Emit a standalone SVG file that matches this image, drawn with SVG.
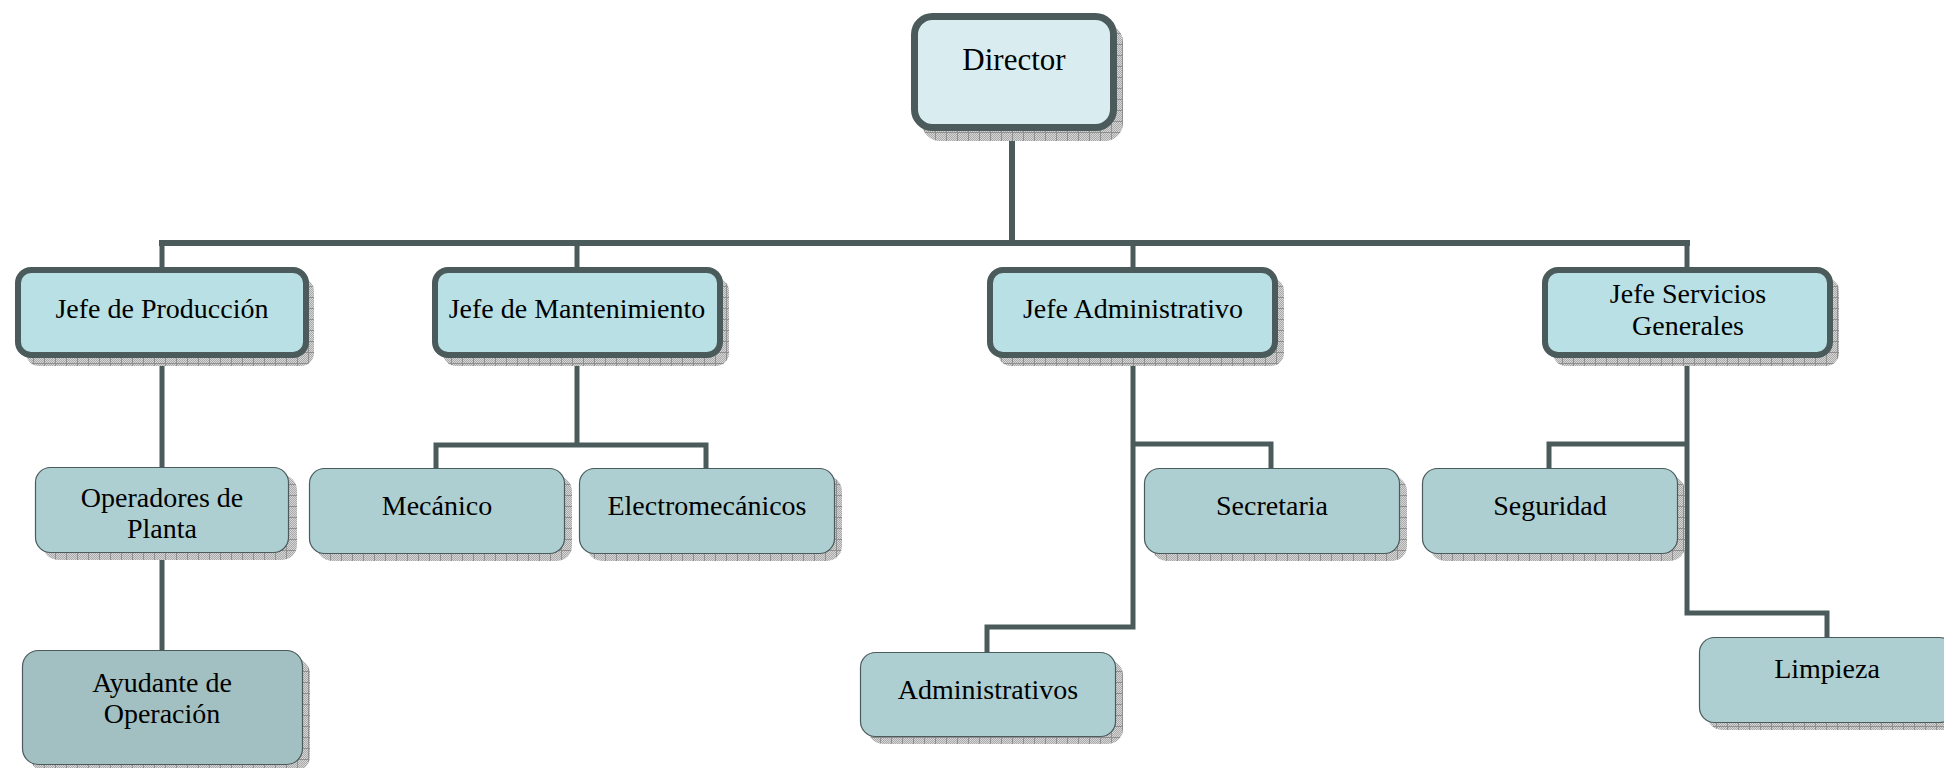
<svg xmlns="http://www.w3.org/2000/svg" width="1944" height="768" viewBox="0 0 1944 768">
  <defs>
    <!-- fine dither used inside the shadow grid -->
    <pattern id="dither" width="2" height="2" patternUnits="userSpaceOnUse">
      <rect width="2" height="2" fill="#d6d6d6"/>
      <rect width="1" height="1" fill="#a9a9a9"/>
      <rect x="1" y="1" width="1" height="1" fill="#a9a9a9"/>
    </pattern>
    <!-- hatched drop shadow -->
    <pattern id="shadowGrid" width="11" height="11" patternUnits="userSpaceOnUse">
      <rect width="11" height="11" fill="url(#dither)"/>
      <rect width="11" height="1" fill="#8f8f8f"/>
      <rect width="1" height="11" fill="#8f8f8f"/>
    </pattern>
  </defs>
  <style>
    .shadow { fill: url(#shadowGrid); }
    .top { fill: #d9edf0; stroke: #4b5a5b; stroke-width: 7; }
    .head { fill: #b9e0e4; stroke: #4b5a5b; stroke-width: 6; }
    .staff { fill: #aecfd2; stroke: #4b5a5b; stroke-width: 1.2; }
    .helper { fill: #a2c0c2; stroke: #4b5a5b; stroke-width: 1.2; }
    .lbl { font-family: "Liberation Serif", "Times New Roman", serif; font-size: 28px; fill: #000; text-anchor: middle; }
    .big { font-size: 31px; }
    .conn { fill: none; stroke: #4b5a5b; stroke-width: 5; stroke-linecap: square; stroke-linejoin: miter; }
  </style>
  <rect width="1944" height="768" fill="#ffffff"/>

  <!-- connectors -->
  <g id="connectors">
    <path class="conn" d="M1012 130 V243" style="stroke-width:6"/>
    <path class="conn" d="M162 243 H1687" style="stroke-width:6"/>
    <path class="conn" d="M162 243 V268 M577 243 V268 M1133 243 V268 M1687 243 V268"/>
    <!-- production -->
    <path class="conn" d="M162 357 V650"/>
    <!-- maintenance -->
    <path class="conn" d="M577 357 V445 M436 468 V445 H706 V468"/>
    <!-- administration -->
    <path class="conn" d="M1133 357 V627 H987 V652 M1133 444 H1271 V468"/>
    <!-- general services -->
    <path class="conn" d="M1687 357 V613 H1827 V637 M1549 468 V444 H1687"/>
  </g>

  <g id="director">
    <rect class="shadow" x="922" y="24" width="201" height="117" rx="18"/>
    <rect class="top" x="914.5" y="16.5" width="199" height="111" rx="18"/>
    <text class="lbl big" x="1014" y="70">Director</text>
  </g>

  <g id="jefe-produccion">
    <rect class="shadow" x="26" y="278" width="288" height="88" rx="13"/>
    <rect class="head" x="18" y="270" width="288" height="85" rx="13"/>
    <text class="lbl" x="162" y="318">Jefe de Producción</text>
  </g>

  <g id="jefe-mantenimiento">
    <rect class="shadow" x="443" y="278" width="286" height="88" rx="13"/>
    <rect class="head" x="435" y="270" width="285" height="85" rx="13"/>
    <text class="lbl" x="577" y="318">Jefe de Mantenimiento</text>
  </g>

  <g id="jefe-administrativo">
    <rect class="shadow" x="998" y="278" width="286" height="88" rx="13"/>
    <rect class="head" x="990" y="270" width="285" height="85" rx="13"/>
    <text class="lbl" x="1133" y="318">Jefe Administrativo</text>
  </g>

  <g id="jefe-servicios">
    <rect class="shadow" x="1553" y="278" width="286" height="88" rx="13"/>
    <rect class="head" x="1545" y="270" width="285" height="85" rx="13"/>
    <text class="lbl" x="1688" y="303">Jefe Servicios</text>
    <text class="lbl" x="1688" y="335">Generales</text>
  </g>

  <g id="operadores">
    <rect class="shadow" x="43" y="475" width="254" height="85" rx="15"/>
    <rect class="staff" x="35.5" y="467.5" width="253" height="85" rx="15"/>
    <text class="lbl" x="162" y="507">Operadores de</text>
    <text class="lbl" x="162" y="538">Planta</text>
  </g>

  <g id="ayudante">
    <rect class="shadow" x="30" y="658" width="280" height="114" rx="16"/>
    <rect class="helper" x="22.5" y="650.5" width="280" height="114" rx="16"/>
    <text class="lbl" x="162" y="692">Ayudante de</text>
    <text class="lbl" x="162" y="723">Operación</text>
  </g>

  <g id="mecanico">
    <rect class="shadow" x="317" y="476" width="255" height="85" rx="15"/>
    <rect class="staff" x="309.5" y="468.5" width="255" height="85" rx="15"/>
    <text class="lbl" x="437" y="515">Mecánico</text>
  </g>

  <g id="electromecanicos">
    <rect class="shadow" x="587" y="476" width="255" height="85" rx="15"/>
    <rect class="staff" x="579.5" y="468.5" width="255" height="85" rx="15"/>
    <text class="lbl" x="707" y="515">Electromecánicos</text>
  </g>

  <g id="secretaria">
    <rect class="shadow" x="1152" y="476" width="255" height="85" rx="15"/>
    <rect class="staff" x="1144.5" y="468.5" width="255" height="85" rx="15"/>
    <text class="lbl" x="1272" y="515">Secretaria</text>
  </g>

  <g id="seguridad">
    <rect class="shadow" x="1430" y="476" width="255" height="85" rx="15"/>
    <rect class="staff" x="1422.5" y="468.5" width="255" height="85" rx="15"/>
    <text class="lbl" x="1550" y="515">Seguridad</text>
  </g>

  <g id="administrativos">
    <rect class="shadow" x="868" y="660" width="255" height="84" rx="15"/>
    <rect class="staff" x="860.5" y="652.5" width="255" height="84" rx="15"/>
    <text class="lbl" x="988" y="699">Administrativos</text>
  </g>

  <g id="limpieza">
    <rect class="shadow" x="1707" y="645" width="255" height="85" rx="15"/>
    <rect class="staff" x="1699.5" y="637.5" width="255" height="85" rx="15"/>
    <text class="lbl" x="1827" y="678">Limpieza</text>
  </g>
</svg>
